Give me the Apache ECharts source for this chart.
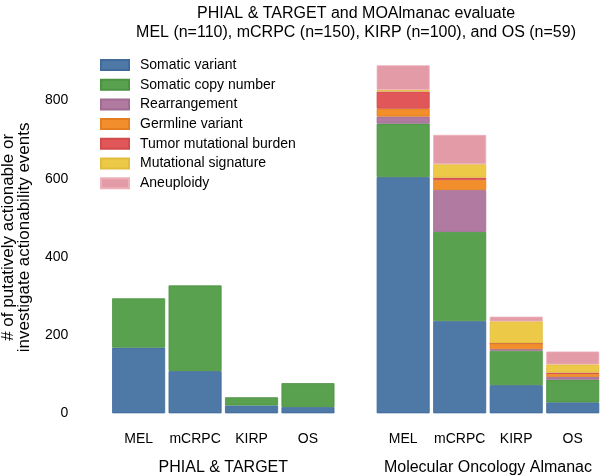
<!DOCTYPE html>
<html>
<head>
<meta charset="utf-8">
<script src="https://cdn.jsdelivr.net/npm/echarts@6/dist/echarts.min.js"></script>
<style>html,body{margin:0;padding:0;background:#fff}#chart{width:600px;height:476px}</style>
</head>
<body>
<div id="chart"></div>
<script>
const categories = ['MEL', 'mCRPC', 'KIRP', 'OS'];
const groupNames = ['PHIAL & TARGET', 'Molecular Oncology Almanac'];
const yTicks = [0, 200, 400, 600, 800];
const seriesNames = ['Somatic variant', 'Somatic copy number', 'Rearrangement', 'Germline variant',
  'Tumor mutational burden', 'Mutational signature', 'Aneuploidy'];

// PHIAL & TARGET
const phialSomaticVariant = [168, 108, 20, 16];
const phialCopyNumber = [126, 219, 21, 61];

// Molecular Oncology Almanac
const moaSomaticVariant = [604, 236, 72, 28];
const moaCopyNumber = [137, 228, 88, 58];
const moaRearrangement = [18, 107, 4, 7];
const moaGermline = [20, 26, 15, 8];
const moaTMB = [44, 6, 0, 3];
const moaMutSig = [4, 34, 56, 21];
const moaAneuploidy = [63, 75, 12, 33];

const colors = ['#4e79a7', '#59a14f', '#b07aa1', '#f28e2b', '#e15759', '#edc948', '#e39ca7'];
const borders = ['#3f6a9a', '#4a9240', '#a06b92', '#e37f20', '#d24a4c', '#e2bd3c', '#eeb0b9'];

const phialData = [phialSomaticVariant, phialCopyNumber];
const moaData = [moaSomaticVariant, moaCopyNumber, moaRearrangement, moaGermline, moaTMB, moaMutSig, moaAneuploidy];

const FONT = 'Liberation Sans';
const series = [];
phialData.forEach((d, i) => series.push({
  name: seriesNames[i], type: 'bar', stack: 'phial', xAxisIndex: 0, yAxisIndex: 0,
  barWidth: 53, data: d,
  itemStyle: { color: colors[i], borderColor: borders[i], borderWidth: 0.8 }
}));
moaData.forEach((d, i) => series.push({
  name: seriesNames[i], type: 'bar', stack: 'moa', xAxisIndex: 1, yAxisIndex: 1,
  barWidth: 53, data: d,
  itemStyle: { color: colors[i], borderColor: borders[i], borderWidth: 0.8 }
}));

const yBase = {
  type: 'value', min: 0, max: 900, interval: 200,
  axisLine: { show: false }, axisTick: { show: false }, splitLine: { show: false }
};
const xBase = {
  type: 'category', data: categories,
  axisLine: { show: false }, axisTick: { show: false },
  axisLabel: { fontSize: 14, color: '#000', fontFamily: FONT, margin: 19, interval: 0 },
  nameLocation: 'middle', nameGap: 46,
  nameTextStyle: { fontSize: 16, color: '#000', fontFamily: FONT }
};

const chart = echarts.init(document.getElementById('chart'), null, { renderer: 'canvas' });
chart.setOption({
  animation: false,
  textStyle: { fontFamily: FONT },
  title: {
    text: 'PHIAL & TARGET and MOAlmanac evaluate\nMEL (n=110), mCRPC (n=150), KIRP (n=100), and OS (n=59)',
    left: 351, textAlign: 'center', top: -1,
    textStyle: { fontSize: 16, fontWeight: 'normal', color: '#000', fontFamily: FONT, lineHeight: 19 }
  },
  legend: {
    orient: 'vertical', left: 100, top: 58, padding: 0, itemWidth: 28, itemHeight: 10, itemGap: 5.7,
    icon: 'rect',
    data: seriesNames,
    textStyle: { fontSize: 14, color: '#000', fontFamily: FONT, lineHeight: 14, padding: [0, 0, 0, 6] }
  },
  grid: [
    { left: 110.4, width: 225.8, top: 61.4, height: 351.9, outerBoundsMode: 'none', containLabel: false },
    { left: 374.9, width: 226.1, top: 61.4, height: 351.9, outerBoundsMode: 'none', containLabel: false }
  ],
  xAxis: [
    Object.assign({}, xBase, { gridIndex: 0, name: groupNames[0] }),
    Object.assign({}, xBase, { gridIndex: 1, name: groupNames[1] })
  ],
  yAxis: [
    Object.assign({}, yBase, {
      gridIndex: 0,
      axisLabel: { fontSize: 14, color: '#000', fontFamily: FONT, margin: 42, showMaxLabel: false,
        formatter: v => (yTicks.indexOf(v) >= 0 ? String(v) : '') },
      name: '# of putatively actionable or\ninvestigate actionability events',
      nameLocation: 'middle', nameRotate: 90, nameGap: 78,
      nameTextStyle: { fontSize: 17, color: '#000', fontFamily: FONT, lineHeight: 16 }
    }),
    Object.assign({}, yBase, { gridIndex: 1, axisLabel: { show: false } })
  ],
  series: series
});
</script>
</body>
</html>
